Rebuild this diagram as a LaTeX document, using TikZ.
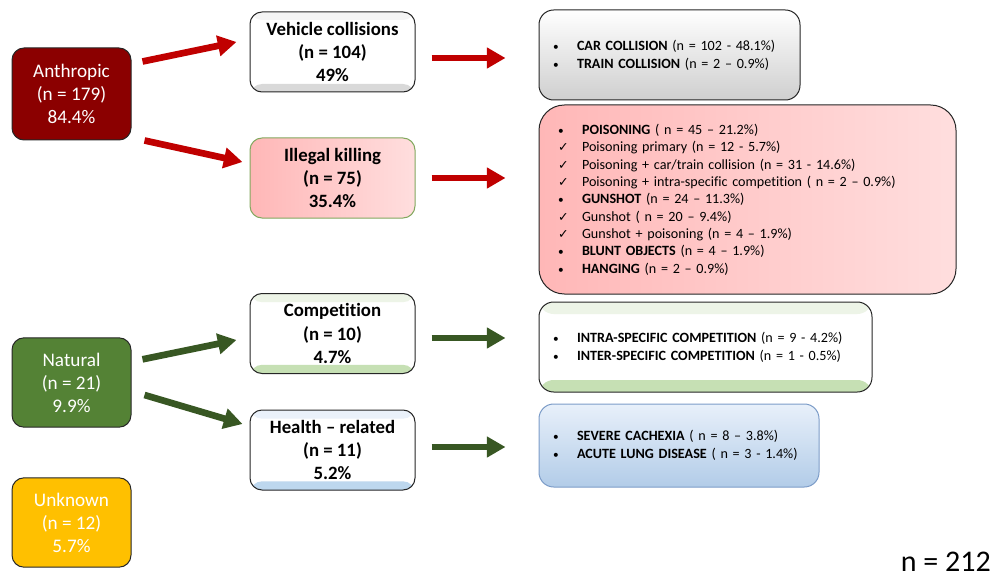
\documentclass[tikz,border=0pt]{standalone}
\usepackage{fontspec}
\setmainfont{Carlito}[Ligatures={TeX,NoCommon}]
\newfontfamily\symfont{DejaVu Sans}
\usepackage{xcolor}
\usetikzlibrary{arrows.meta}

\definecolor{anthred}{HTML}{8B0000}
\definecolor{natgreen}{HTML}{548235}
\definecolor{unkyellow}{HTML}{FFC000}
\definecolor{arrowred}{HTML}{C00000}
\definecolor{arrowgreen}{HTML}{385723}
\definecolor{boxline}{HTML}{262626}
\definecolor{pinkdark}{HTML}{FFB7B7}
\definecolor{pinklight}{HTML}{FFDEDE}
\definecolor{killline}{HTML}{82A85E}
\definecolor{greenpale}{HTML}{EDF4E7}
\definecolor{greenband}{HTML}{C6E0B4}
\definecolor{bluepale}{HTML}{EAF1FA}
\definecolor{blueband}{HTML}{BDD7EE}
\definecolor{bluetop}{HTML}{E8F0FA}
\definecolor{bluebottom}{HTML}{B2CCE8}
\definecolor{blueline}{HTML}{7C9CC8}
\definecolor{graypale}{HTML}{F4F4F4}
\definecolor{grayband}{HTML}{D9D9D9}

\newcommand{\bul}[1]{\makebox[18pt][l]{\fontsize{8.5}{8.5}\selectfont •}#1}
\newcommand{\chk}[1]{\makebox[18pt][l]{\symfont\fontsize{9.5}{9.5}\selectfont ✓}#1}

\begin{document}
\begin{tikzpicture}[x=0.75pt, y=-0.75pt,
        cause/.style={draw=boxline, line width=0.75pt, rounded corners=9pt, minimum width=89.25pt, minimum height=67pt, align=center, text=white, font=\fontsize{14.4}{17.25}\selectfont},
        group/.style={draw=boxline, line width=0.75pt, rounded corners=9pt, fill=white, minimum width=123.75pt, minimum height=60pt, align=center, font=\fontsize{14.1}{17.6}\selectfont\bfseries},
        detail/.style={draw=boxline, line width=0.75pt, rounded corners=11pt, inner xsep=10.5pt, align=left, font=\fontsize{10.6}{13.4}\selectfont},
        band/.style n args={3}{path picture={
            \fill[#1] (path picture bounding box.north west) rectangle ([yshift=-#3]path picture bounding box.north east);
            \fill[#2] (path picture bounding box.south west) rectangle ([yshift=#3]path picture bounding box.south east);}},
        redflow/.style={-{Triangle[length=14pt, width=15pt]}, line width=5pt, draw=arrowred},
        greenflow/.style={-{Triangle[length=14pt, width=15pt]}, line width=5pt, draw=arrowgreen}
    ]
        \useasboundingbox (0,0) rectangle (995,581);

        \node[cause, fill=anthred, minimum height=69pt] (anthropic) at (71.5,94) {Anthropic\\(n = 179)\\84.4\%};
        \node[cause, fill=natgreen] (natural) at (71.5,382.5) {Natural\\(n = 21)\\9.9\%};
        \node[cause, fill=unkyellow] (unknown) at (71.5,522.5) {Unknown\\(n = 12)\\5.7\%};

        \node[group, band={graypale}{grayband}{6pt}] (vehicle) at (332.5,52) {Vehicle collisions\\(n = 104)\\49\%};
        \node[group, draw=killline, left color=pinkdark, right color=pinklight] (illegal) at (332.5,178) {Illegal killing\\(n = 75)\\35.4\%};
        \node[group, band={greenpale}{greenband}{6.5pt}] (competition) at (332.5,333.5) {Competition\\(n = 10)\\4.7\%};
        \node[group, band={bluepale}{blueband}{6.5pt}] (health) at (332.5,450) {Health -- related\\(n = 11)\\5.2\%};

        \node[detail, top color=white, bottom color=gray!38, minimum height=67.5pt, text width=174.75pt] (car) at (669.5,55)
            {\bul{\textbf{CAR COLLISION} (n = 102 - 48.1\%)}\\\bul{\textbf{TRAIN COLLISION} (n = 2 – 0.9\%)}};
        \node[detail, rounded corners=19pt, left color=pinkdark, right color=pinklight, inner xsep=14.25pt, minimum height=141.75pt, text width=284.25pt, font=\fontsize{10.6}{13}\selectfont] (poison) at (747.5,199.5)
            {\bul{\textbf{POISONING} ( n = 45 – 21.2\%)}\\
             \chk{Poisoning primary (n = 12 - 5.7\%)}\\
             \chk{Poisoning + car/train collision (n = 31 - 14.6\%)}\\
             \chk{Poisoning + intra-specific competition ( n = 2 – 0.9\%)}\\
             \bul{\textbf{GUNSHOT} (n = 24 – 11.3\%)}\\
             \chk{Gunshot ( n = 20 – 9.4\%)}\\
             \chk{Gunshot + poisoning (n = 4 – 1.9\%)}\\
             \bul{\textbf{BLUNT OBJECTS} (n = 4 – 1.9\%)}\\
             \bul{\textbf{HANGING} (n = 2 – 0.9\%)}};
        \node[detail, fill=white, band={greenpale}{greenband}{9pt}, minimum height=67.5pt, text width=228.75pt] (intra) at (705.5,347)
            {\bul{\textbf{INTRA-SPECIFIC COMPETITION} (n = 9 - 4.2\%)}\\\bul{\textbf{INTER-SPECIFIC COMPETITION} (n = 1 - 0.5\%)}};
        \node[detail, draw=blueline, top color=bluetop, bottom color=bluebottom, minimum height=62.25pt, text width=189pt] (severe) at (679,445.5)
            {\bul{\textbf{SEVERE CACHEXIA} ( n = 8 – 3.8\%)}\\\bul{\textbf{ACUTE LUNG DISEASE} ( n = 3 - 1.4\%)}};

        \node[anchor=east, inner sep=0pt, font=\fontsize{22.5}{26}\selectfont] (total) at (991,562) {n = 212};

        \draw[redflow] ([shift={(11,14)}]anthropic.north east) -- ([shift={(-13,-10)}]vehicle.west);
        \draw[redflow] ([shift={(13,0)}]anthropic.south east) -- ([shift={(-7,-16)}]illegal.west);
        \draw[redflow] ([shift={(16,6)}]vehicle.east) -- ([shift={(-33,3)}]car.west);
        \draw[redflow] ([shift={(16,0)}]illegal.east) -- ([shift={(-33,-21.5)}]poison.west);
        \draw[greenflow] ([shift={(11,22)}]natural.north east) -- ([shift={(-13,6.5)}]competition.west);
        \draw[greenflow] ([shift={(13,12.5)}]natural.east) -- ([shift={(-7,-26)}]health.west);
        \draw[greenflow] ([shift={(16,4.5)}]competition.east) -- ([shift={(-33,-9)}]intra.west);
        \draw[greenflow] ([shift={(16,-3)}]health.east) -- ([shift={(-33,1.5)}]severe.west);
    \end{tikzpicture}
\end{document}
